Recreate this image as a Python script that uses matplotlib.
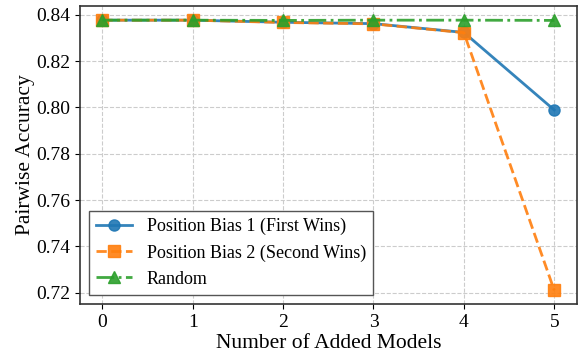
import matplotlib
matplotlib.use("Agg")
import matplotlib.pyplot as plt

plt.rcParams['font.family'] = ['Liberation Serif', 'DejaVu Serif']

x = [0, 1, 2, 3, 4, 5]
bias1 = [0.8377, 0.8377, 0.8368, 0.8362, 0.8324, 0.7989]
bias2 = [0.8377, 0.8377, 0.8367, 0.8361, 0.8323, 0.7210]
random_ = [0.8377, 0.8377, 0.8376, 0.8377, 0.8377, 0.8376]
labels = ['Position Bias 1 (First Wins)', 'Position Bias 2 (Second Wins)', 'Random']
yticks = [0.72, 0.74, 0.76, 0.78, 0.80, 0.82, 0.84]

fig = plt.figure(figsize=(5.78, 3.56), dpi=100)
ax = fig.add_axes([0.138, 0.146, 0.860, 0.837])

ax.plot(x, bias1, color='#1f77b4', linestyle='-', marker='o', lw=2, ms=8, label=labels[0], alpha=0.9)
ax.plot(x, bias2, color='#ff7f0e', linestyle='--', marker='s', lw=2, ms=8, label=labels[1], alpha=0.9)
ax.plot(x, random_, color='#2ca02c', linestyle='-.', marker='^', lw=2, ms=8, label=labels[2], alpha=0.9)

ax.set_xlim(-0.25, 5.25)
ax.set_ylim(0.7151, 0.8438)
ax.set_xticks(x)
ax.set_yticks(yticks)
ax.set_yticklabels([f'{v:.2f}' for v in yticks])
ax.tick_params(labelsize=14)
ax.grid(True, linestyle='--', color='#cccccc', lw=0.8)
ax.set_axisbelow(True)
ax.set_xlabel('Number of Added Models', fontsize=15.5, labelpad=2)
ax.set_ylabel('Pairwise Accuracy', fontsize=15.5, labelpad=1)
for s in ax.spines.values():
    s.set_color('#333333')
    s.set_linewidth(1.2)

leg = ax.legend(loc='lower left', fontsize=13, fancybox=False, edgecolor='#555555', framealpha=1)

fig.savefig('out.png', dpi=100)
